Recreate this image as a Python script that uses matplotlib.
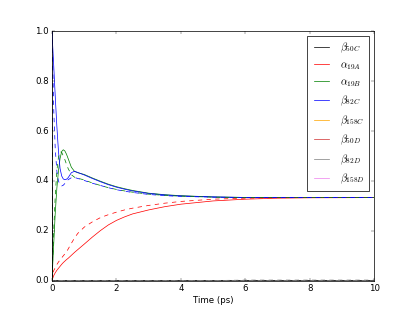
import matplotlib
matplotlib.use("Agg")

import matplotlib.pyplot as plt

# time grid (ps)
t = [0, 0.01, 0.05, 0.1, 0.15, 0.2, 0.25, 0.3, 0.35, 0.4, 0.45, 0.5, 0.6, 0.7,
     0.8, 1.0, 1.25, 1.5, 1.75, 2, 2.25, 2.5, 3, 3.5, 4, 5, 6, 7, 8, 10]

zero = [0.0] * len(t)
b50c = [1.0] + [0.0] * (len(t) - 1)

a19a = [0, 0.005, 0.02, 0.032, 0.042, 0.05, 0.058, 0.066, 0.073, 0.079, 0.085,
        0.09, 0.102, 0.114, 0.125, 0.147, 0.175, 0.201, 0.224, 0.242, 0.256,
        0.268, 0.284, 0.297, 0.307, 0.32, 0.327, 0.331, 0.3325, 0.3333]
a19b = [0, 0.03, 0.14, 0.27, 0.37, 0.44, 0.49, 0.518, 0.525, 0.52, 0.507,
        0.49, 0.455, 0.438, 0.433, 0.426, 0.412, 0.399, 0.387, 0.377, 0.369,
        0.362, 0.351, 0.345, 0.341, 0.336, 0.334, 0.3335, 0.3333, 0.3333]
b82c = [1.0, 0.97, 0.87, 0.74, 0.62, 0.52, 0.45, 0.42, 0.408, 0.405, 0.407,
        0.413, 0.433, 0.439, 0.434, 0.424, 0.41, 0.397, 0.385, 0.375, 0.367,
        0.36, 0.35, 0.344, 0.34, 0.336, 0.334, 0.3335, 0.3333, 0.3333]

# second set (dashed)
a19a_d = [0, 0.02, 0.04, 0.052, 0.065, 0.075, 0.084, 0.092, 0.1, 0.108, 0.116,
          0.127, 0.15, 0.172, 0.19, 0.215, 0.236, 0.253, 0.265, 0.275, 0.284,
          0.291, 0.302, 0.311, 0.318, 0.327, 0.331, 0.333, 0.3333, 0.3333]
a19b_d = [0, 0.04, 0.19, 0.34, 0.44, 0.495, 0.517, 0.515, 0.5, 0.485, 0.467,
          0.45, 0.425, 0.415, 0.411, 0.404, 0.392, 0.382, 0.373, 0.366, 0.36,
          0.355, 0.347, 0.342, 0.339, 0.335, 0.3337, 0.3333, 0.3333, 0.3333]
b82c_d = [1.0, 0.95, 0.7, 0.53, 0.44, 0.4, 0.385, 0.38, 0.383, 0.39, 0.398,
          0.405, 0.413, 0.414, 0.41, 0.402, 0.391, 0.382, 0.373, 0.365, 0.359,
          0.354, 0.346, 0.341, 0.338, 0.335, 0.3337, 0.3333, 0.3333, 0.3333]
b82d_d = [0.0] * 25 + [0.001, 0.003, 0.003, 0.003, 0.003]

plt.style.use("classic")
fig, ax = plt.subplots(figsize=(8, 6), dpi=52)
fig.patch.set_facecolor("white")

ax.plot(t, b50c, color="k", label=r"$\beta_{50C}$")
ax.plot(t, a19a, color="r", label=r"$\alpha_{19A}$")
ax.plot(t, a19b, color="g", label=r"$\alpha_{19B}$")
ax.plot(t, b82c, color="b", label=r"$\beta_{82C}$")
ax.plot(t, zero, color="orange", label=r"$\beta_{158C}$")
ax.plot(t, zero, color="#d03030", label=r"$\beta_{50D}$")
ax.plot(t, zero, color="gray", label=r"$\beta_{82D}$")
ax.plot(t, zero, color="violet", label=r"$\beta_{158D}$")

ax.plot(t, b50c, color="k", ls="--")
ax.plot(t, a19a_d, color="r", ls="--")
ax.plot(t, a19b_d, color="g", ls="--")
ax.plot(t, b82c_d, color="b", ls="--")
ax.plot(t, b82d_d, color="gray", ls="--")

ax.set_xlim(0, 10)
ax.set_ylim(0, 1)
ax.set_xlabel("Time (ps)")
ax.legend(loc="upper right")

fig.savefig("out.png", dpi=52, facecolor="white")
